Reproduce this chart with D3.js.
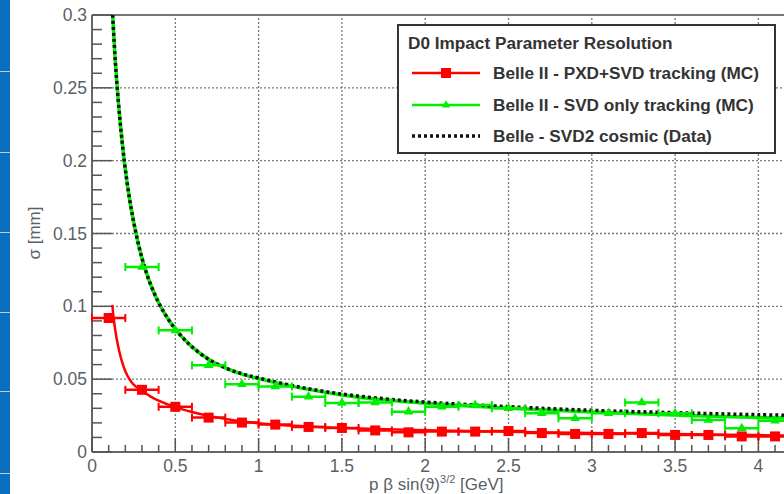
<!DOCTYPE html>
<html>
<head>
<meta charset="utf-8">
<script src="https://cdn.jsdelivr.net/npm/d3@7"></script>
<style>
  html, body { margin: 0; padding: 0; background: #fff; }
  svg { display: block; }
  text { font-family: "Liberation Sans", Arial, sans-serif; }
</style>
</head>
<body>
<svg id="chart" width="784" height="494"></svg>
<script>
// ---- data ----
const xTicks = [0, 0.5, 1, 1.5, 2, 2.5, 3, 3.5, 4];
const xTickLabels = ["0", "0.5", "1", "1.5", "2", "2.5", "3", "3.5", "4"];
const yTicks = [0, 0.05, 0.1, 0.15, 0.2, 0.25, 0.3];
const yTickLabels = ["0", "0.05", "0.1", "0.15", "0.2", "0.25", "0.3"];

// Belle II - PXD+SVD tracking (MC): bin centres, sigma, half bin width
const pxdX = [0.1, 0.3, 0.5, 0.7, 0.9, 1.1, 1.3, 1.5, 1.7, 1.9, 2.1, 2.3, 2.5, 2.7, 2.9, 3.1, 3.3, 3.5, 3.7, 3.9, 4.1];
const pxdY = [0.092, 0.0427, 0.031, 0.0236, 0.0202, 0.0188, 0.0172, 0.0165, 0.0148, 0.0135, 0.014, 0.014, 0.0144, 0.013, 0.0124, 0.0124, 0.013, 0.0117, 0.0117, 0.0107, 0.0107];
// SVD only tracking (MC)
const svdX = [0.3, 0.5, 0.7, 0.9, 1.1, 1.3, 1.5, 1.7, 1.9, 2.1, 2.3, 2.5, 2.7, 2.9, 3.1, 3.3, 3.5, 3.7, 3.9, 4.1];
const svdY = [0.127, 0.0835, 0.0595, 0.0465, 0.045, 0.038, 0.0336, 0.034, 0.0277, 0.031, 0.0323, 0.030, 0.0266, 0.0232, 0.0266, 0.034, 0.0266, 0.022, 0.0163, 0.0215];
const binHalfWidth = 0.1;

// fitted curves
const pxdFitX = [0.122, 0.13, 0.14, 0.15, 0.165, 0.18, 0.2, 0.225, 0.25, 0.3, 0.35, 0.4, 0.5, 0.6, 0.7, 0.85, 1.0, 1.25, 1.5, 2.0, 2.5, 3.0, 3.5, 4.0, 4.5];
const pxdFitY = [0.101, 0.092, 0.0835, 0.0765, 0.0685, 0.062, 0.0555, 0.050, 0.0462, 0.042, 0.0382, 0.0352, 0.0308, 0.0275, 0.0248, 0.0218, 0.0198, 0.0178, 0.0165, 0.0149, 0.0139, 0.0131, 0.0123, 0.0116, 0.011];
const svdFitX = [0.124, 0.14, 0.16, 0.18, 0.2, 0.225, 0.25, 0.28, 0.31, 0.35, 0.4, 0.45, 0.5, 0.55, 0.6, 0.7, 0.8, 0.9, 1.0, 1.25, 1.5, 1.75, 2.0, 2.5, 3.0, 3.5, 4.0, 4.5];
const svdFitY = [0.300, 0.268, 0.238, 0.214, 0.194, 0.174, 0.158, 0.142, 0.129, 0.1155, 0.1025, 0.0925, 0.0845, 0.0778, 0.0722, 0.0636, 0.0577, 0.0535, 0.0504, 0.0440, 0.0392, 0.0358, 0.0334, 0.0300, 0.0274, 0.0254, 0.0237, 0.0224];
const belleX = [0.124, 0.14, 0.16, 0.18, 0.2, 0.225, 0.25, 0.28, 0.31, 0.35, 0.4, 0.45, 0.5, 0.55, 0.6, 0.7, 0.8, 0.9, 1.0, 1.25, 1.5, 1.75, 2.0, 2.5, 3.0, 3.5, 4.0, 4.5];
const belleY = [0.300, 0.268, 0.238, 0.214, 0.194, 0.174, 0.158, 0.142, 0.129, 0.1155, 0.1025, 0.0925, 0.0845, 0.0778, 0.0722, 0.0636, 0.0577, 0.0537, 0.0508, 0.0445, 0.0398, 0.0366, 0.0343, 0.0311, 0.0286, 0.0270, 0.0256, 0.0245];

const legendTitle = "D0 Impact Parameter Resolution";
const legendLabels = ["Belle II - PXD+SVD tracking (MC)", "Belle II - SVD only tracking (MC)", "Belle - SVD2 cosmic (Data)"];
const stripLines = [71, 152, 232, 312, 391, 473];

// ---- drawing ----
const svg = d3.select("#chart");
const x = d3.scaleLinear().domain([0, 4.5]).range([92, 92 + 4.5 * 166.6]);
const y = d3.scaleLinear().domain([0, 0.3]).range([452, 15]);

// left blue strip
svg.append("rect").attr("x", 0).attr("y", 0).attr("width", 10).attr("height", 494).attr("fill", "#0a6ec1");
svg.selectAll("line.strip").data(stripLines).enter().append("line")
  .attr("x1", 0).attr("x2", 10).attr("y1", d => d + 0.5).attr("y2", d => d + 0.5)
  .attr("stroke", "#b8cfe6").attr("stroke-width", 1);

const plot = svg.append("g");
const W = 784;

// grid
plot.selectAll("line.gx").data(xTicks.filter(d => d > 0)).enter().append("line")
  .attr("x1", d => x(d)).attr("x2", d => x(d)).attr("y1", y(0)).attr("y2", y(0.3))
  .attr("stroke", "#7a7a7a").attr("stroke-width", 1.3).attr("stroke-dasharray", "2,2");
plot.selectAll("line.gy").data(yTicks.filter(d => d > 0 && d < 0.3)).enter().append("line")
  .attr("x1", x(0)).attr("x2", W).attr("y1", d => y(d)).attr("y2", d => y(d))
  .attr("stroke", "#7a7a7a").attr("stroke-width", 1.3).attr("stroke-dasharray", "2,2");

// frame
plot.append("line").attr("x1", x(0)).attr("x2", W).attr("y1", y(0.3)).attr("y2", y(0.3)).attr("stroke", "#777").attr("stroke-width", 2);
plot.append("line").attr("x1", x(0)).attr("x2", W).attr("y1", y(0)).attr("y2", y(0)).attr("stroke", "#666").attr("stroke-width", 2);
plot.append("line").attr("x1", x(0)).attr("x2", x(0)).attr("y1", y(0)).attr("y2", y(0.3)).attr("stroke", "#666").attr("stroke-width", 2);

// minor ticks
const yMinor = d3.range(0, 0.3001, 0.01);
plot.selectAll("line.ym").data(yMinor).enter().append("line")
  .attr("x1", x(0)).attr("x2", d => x(0) + (Math.abs(d / 0.05 - Math.round(d / 0.05)) < 1e-6 ? 20 : 10))
  .attr("y1", d => y(d)).attr("y2", d => y(d))
  .attr("stroke", "#555").attr("stroke-width", 1.5);
const xMinor = d3.range(0, 4.5001, 0.1);
plot.selectAll("line.xm").data(xMinor).enter().append("line")
  .attr("x1", d => x(d)).attr("x2", d => x(d))
  .attr("y1", y(0)).attr("y2", d => y(0) - (Math.abs(d / 0.5 - Math.round(d / 0.5)) < 1e-6 ? 14 : 7))
  .attr("stroke", "#555").attr("stroke-width", 1.5);

// tick labels
plot.selectAll("text.yl").data(yTicks).enter().append("text")
  .attr("x", 87).attr("y", d => y(d) + 6).attr("text-anchor", "end")
  .attr("font-size", 17.5).attr("fill", "#5b5f66")
  .text((d, i) => yTickLabels[i]);
plot.selectAll("text.xl").data(xTicks).enter().append("text")
  .attr("x", d => x(d)).attr("y", 472).attr("text-anchor", "middle")
  .attr("font-size", 17.5).attr("fill", "#5b5f66")
  .text((d, i) => xTickLabels[i]);

// axis titles
const xt = plot.append("text").attr("x", 369).attr("y", 490).attr("font-size", 17).attr("fill", "#5b5f66");
xt.append("tspan").text("p \u03B2 sin(\u03D1)");
xt.append("tspan").attr("dy", -7).attr("font-size", 11).text("3/2");
xt.append("tspan").attr("dy", 7).text(" [GeV]");
plot.append("text").attr("transform", "translate(40,233) rotate(-90)").attr("text-anchor", "middle")
  .attr("font-size", 17).attr("fill", "#5b5f66").text("\u03C3 [mm]");

// curves
const line = d3.line().x(d => x(d[0])).y(d => y(d[1])).curve(d3.curveCatmullRom.alpha(0.5));
const zip = (a, b) => a.map((v, i) => [v, b[i]]);

plot.append("path").datum(zip(svdFitX, svdFitY)).attr("d", line)
  .attr("fill", "none").attr("stroke", "#00ee00").attr("stroke-width", 3.5);
plot.append("path").datum(zip(belleX, belleY)).attr("d", line)
  .attr("fill", "none").attr("stroke", "#111").attr("stroke-width", 3.5).attr("stroke-dasharray", "3,3");
plot.append("path").datum(zip(pxdFitX, pxdFitY)).attr("d", line)
  .attr("fill", "none").attr("stroke", "#ff0000").attr("stroke-width", 2.5);

// error bars + markers
function drawPoints(xs, ys, color, marker) {
  const g = plot.append("g");
  const pts = zip(xs, ys);
  g.selectAll("line.eb").data(pts).enter().append("line")
    .attr("x1", d => x(d[0] - binHalfWidth)).attr("x2", d => x(d[0] + binHalfWidth))
    .attr("y1", d => y(d[1])).attr("y2", d => y(d[1]))
    .attr("stroke", color).attr("stroke-width", 2.5);
  g.selectAll("line.cl").data(pts).enter().append("line")
    .attr("x1", d => x(d[0] - binHalfWidth)).attr("x2", d => x(d[0] - binHalfWidth))
    .attr("y1", d => y(d[1]) - 4).attr("y2", d => y(d[1]) + 4)
    .attr("stroke", color).attr("stroke-width", 2);
  g.selectAll("line.cr").data(pts).enter().append("line")
    .attr("x1", d => x(d[0] + binHalfWidth)).attr("x2", d => x(d[0] + binHalfWidth))
    .attr("y1", d => y(d[1]) - 4).attr("y2", d => y(d[1]) + 4)
    .attr("stroke", color).attr("stroke-width", 2);
  if (marker === "square") {
    g.selectAll("rect").data(pts).enter().append("rect")
      .attr("x", d => x(d[0]) - 5).attr("y", d => y(d[1]) - 5).attr("width", 10).attr("height", 10)
      .attr("fill", color);
  } else {
    g.selectAll("path").data(pts).enter().append("path")
      .attr("d", d3.symbol().type(d3.symbolTriangle).size(40))
      .attr("transform", d => `translate(${x(d[0])},${y(d[1])})`)
      .attr("fill", color);
  }
}
drawPoints(svdX, svdY, "#00ee00", "triangle");
drawPoints(pxdX, pxdY, "#ff0000", "square");

// legend
const lg = svg.append("g");
lg.append("rect").attr("x", 398).attr("y", 25).attr("width", 377).attr("height", 128)
  .attr("fill", "#fff").attr("stroke", "#333").attr("stroke-width", 2);
lg.append("text").attr("x", 408).attr("y", 49).attr("font-size", 17.2).attr("font-weight", "bold")
  .attr("fill", "#333").text(legendTitle);
const rowY = [73, 105, 136];
lg.selectAll("text.le").data(legendLabels).enter().append("text")
  .attr("x", 493).attr("y", (d, i) => rowY[i] + 6).attr("font-size", 17.2).attr("font-weight", "bold")
  .attr("fill", "#333").text(d => d);
// entry 1
lg.append("line").attr("x1", 412).attr("x2", 480).attr("y1", rowY[0]).attr("y2", rowY[0]).attr("stroke", "#ff0000").attr("stroke-width", 2.5);
lg.append("rect").attr("x", 441).attr("y", rowY[0] - 5).attr("width", 10).attr("height", 10).attr("fill", "#ff0000");
// entry 2
lg.append("line").attr("x1", 412).attr("x2", 480).attr("y1", rowY[1]).attr("y2", rowY[1]).attr("stroke", "#00ee00").attr("stroke-width", 2.5);
lg.append("path").attr("d", d3.symbol().type(d3.symbolTriangle).size(30)).attr("transform", `translate(446,${rowY[1]})`).attr("fill", "#00ee00");
// entry 3
lg.append("line").attr("x1", 412).attr("x2", 480).attr("y1", rowY[2]).attr("y2", rowY[2]).attr("stroke", "#111").attr("stroke-width", 3.5).attr("stroke-dasharray", "3,3");
</script>
</body>
</html>
